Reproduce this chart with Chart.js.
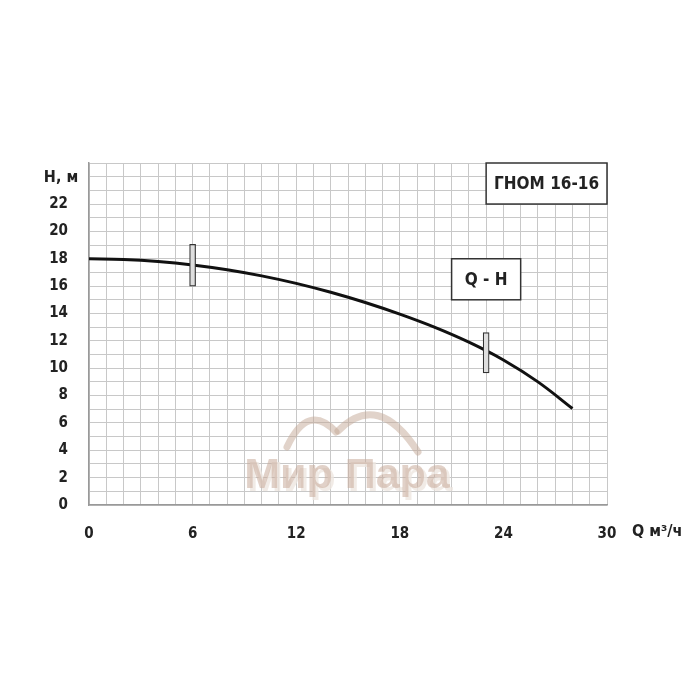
<!DOCTYPE html>
<html>
<head>
<meta charset="utf-8">
<script src="https://cdn.jsdelivr.net/npm/chart.js@4"></script>
<style>
  body { margin: 0; background: #fff; }
  canvas { display: block; }
</style>
</head>
<body>
<canvas id="grafico" width="700" height="700"></canvas>
<script>
// Данные кривой Q-H (ГНОМ 16-16)
const расход = [0, 2, 4, 6, 8, 10, 12, 14, 16, 18, 20, 22, 24, 26, 28];
const напор = [18.0, 17.95, 17.8, 17.55, 17.2, 16.75, 16.2, 15.55, 14.8, 13.95, 13.0, 11.9, 10.6, 9.0, 7.05];

// Рабочий диапазон (метки на кривой)
const меткиQ = [6, 23];
const меткиH = [[16.0, 19.05], [9.65, 12.6]];

const подписиX = [0, 6, 12, 18, 24, 30];
const подписиY = [0, 2, 4, 6, 8, 10, 12, 14, 16, 18, 20, 22];

const шрифт = '"Liberation Sans Narrow", "DejaVu Sans Condensed", sans-serif';

// Рамки с текстом, подпись осей, водяной знак
const надписи = {
    id: 'nadpisi',
    beforeDatasetsDraw(chart) {
        const ctx = chart.ctx;
        const x = chart.scales.x, y = chart.scales.y;

        // водяной знак "Мир Пара"
        ctx.save();
        ctx.strokeStyle = 'rgba(195,168,150,0.5)';
        ctx.lineWidth = 7;
        ctx.lineCap = 'round';
        ctx.beginPath();
        ctx.moveTo(287, 447);
        ctx.quadraticCurveTo(308, 402, 336, 432);
        ctx.stroke();
        ctx.beginPath();
        ctx.moveTo(338, 431);
        ctx.quadraticCurveTo(378, 390, 418, 452);
        ctx.stroke();
        ctx.font = 'bold 43px "Liberation Sans", sans-serif';
        ctx.textAlign = 'center';
        ctx.textBaseline = 'alphabetic';
        ctx.fillStyle = 'rgba(238,230,224,0.8)';
        ctx.fillText('Мир Пара', 350, 491);
        ctx.fillStyle = 'rgba(200,172,154,0.55)';
        ctx.fillText('Мир Пара', 347, 488);
        ctx.restore();

        // рамки
        const рамка = (q1, h1, q2, h2, текст) => {
            const l = x.getPixelForValue(q1), r = x.getPixelForValue(q2);
            const t = y.getPixelForValue(h1), b = y.getPixelForValue(h2);
            ctx.save();
            ctx.fillStyle = '#fff';
            ctx.fillRect(l, t, r - l, b - t);
            ctx.strokeStyle = '#333';
            ctx.lineWidth = 1.5;
            ctx.strokeRect(l, t, r - l, b - t);
            ctx.fillStyle = '#222';
            ctx.font = 'bold 17px ' + шрифт;
            ctx.textAlign = 'center';
            ctx.textBaseline = 'middle';
            ctx.fillText(текст, (l + r) / 2, (t + b) / 2 + 1);
            ctx.restore();
        };
        рамка(23, 25, 30, 22, 'ГНОМ 16-16');
        рамка(21, 18, 25, 15, 'Q - H');
    },
    afterDraw(chart) {
        const ctx = chart.ctx;
        const y = chart.scales.y;
        ctx.save();
        ctx.fillStyle = '#222';
        ctx.font = 'bold 16px ' + шрифт;
        ctx.textBaseline = 'middle';
        ctx.textAlign = 'center';
        ctx.fillText('H, м', 61, y.getPixelForValue(24) + 1);
        ctx.textAlign = 'left';
        ctx.fillText('Q м³/ч', 632, 532);
        ctx.restore();
    }
};

new Chart(document.getElementById('grafico'), {
    type: 'line',
    data: {
        datasets: [
            {
                type: 'bar',
                data: меткиQ.map((q, i) => ({ x: q, y: меткиH[i] })),
                backgroundColor: '#dedede',
                borderColor: '#333',
                borderWidth: 1.2,
                borderSkipped: false,
                barThickness: 6,
                order: 0
            },
            {
                data: расход.map((q, i) => ({ x: q, y: напор[i] })),
                borderColor: '#111',
                borderWidth: 3,
                pointRadius: 0,
                tension: 0.4,
                fill: false,
                order: 1
            }
        ]
    },
    options: {
        responsive: false,
        animation: false,
        layout: { padding: { left: 0, right: 93, top: 163, bottom: 0 } },
        plugins: { legend: { display: false }, tooltip: { enabled: false } },
        scales: {
            x: {
                type: 'linear',
                min: 0, max: 30,
                offset: false,
                grid: { color: '#c8c8c8', lineWidth: 1, drawTicks: false, offset: false },
                border: { color: '#999', width: 1.5 },
                afterFit(s) { s.height = 195; },
                ticks: {
                    stepSize: 1,
                    autoSkip: false,
                    maxRotation: 0,
                    padding: 20,
                    color: '#222',
                    font: { family: шрифт, size: 15, weight: 'bold' },
                    callback: v => подписиX.includes(v) ? String(v) : ''
                }
            },
            y: {
                min: 0, max: 25,
                grid: { color: '#c8c8c8', lineWidth: 1, drawTicks: false },
                border: { color: '#999', width: 1.5 },
                afterFit(s) { s.width = 89; },
                ticks: {
                    stepSize: 1,
                    autoSkip: false,
                    padding: 21,
                    color: '#222',
                    font: { family: шрифт, size: 15, weight: 'bold' },
                    callback: v => подписиY.includes(v) ? String(v) : ''
                }
            }
        }
    },
    plugins: [надписи]
});
</script>
</body>
</html>
